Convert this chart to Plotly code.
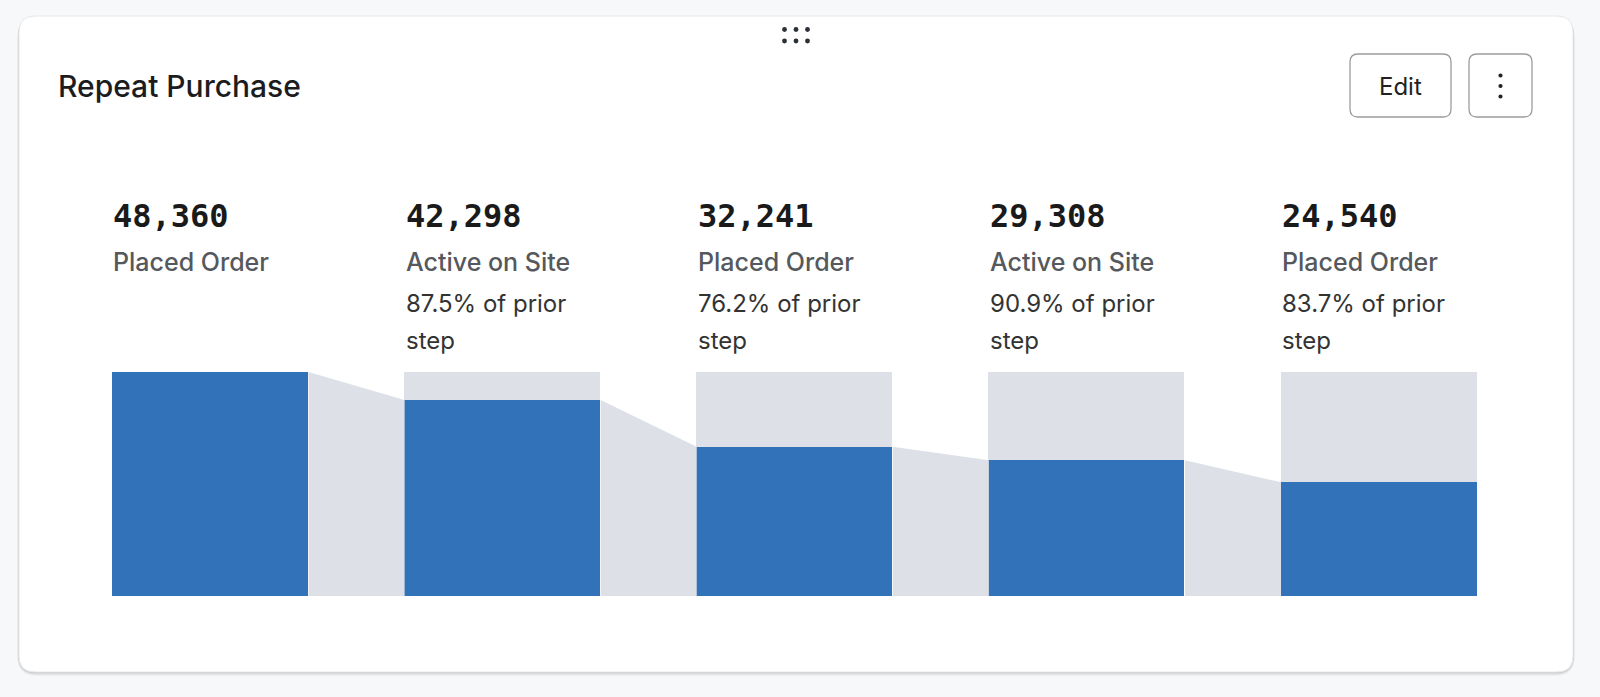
import plotly.graph_objects as go

# ---- data ----
steps = ["Placed Order", "Active on Site", "Placed Order", "Active on Site", "Placed Order"]
counts = [48360, 42298, 32241, 29308, 24540]
title = "Repeat Purchase"

W, H = 1600, 697
BLUE = "#3172b8"
GRAY = "#dde1e7"
BAR_W = 0.671

def px(x):
    return x / W

def py(y):
    return (H - y) / H

fig = go.Figure()

n = len(counts)
xs = list(range(n))
top = counts[0]

# gray background bars (full height) for steps after the first
fig.add_trace(go.Bar(x=xs[1:], y=[top] * (n - 1), width=BAR_W, marker=dict(color=GRAY, line=dict(width=0)),
                     hoverinfo="skip", showlegend=False))
# connectors
for i in range(n - 1):
    x0 = xs[i] + BAR_W / 2
    x1 = xs[i + 1] - BAR_W / 2
    fig.add_trace(go.Scatter(x=[x0, x1, x1, x0, x0], y=[counts[i], counts[i + 1], 0, 0, counts[i]],
                             mode="lines", fill="toself", fillcolor=GRAY, line=dict(width=0, color=GRAY),
                             hoverinfo="skip", showlegend=False))
# blue bars
fig.add_trace(go.Bar(x=xs, y=counts, width=BAR_W, marker=dict(color=BLUE, line=dict(width=0)),
                     hovertemplate="%{y:,}<extra></extra>", showlegend=False))

# ---- text annotations ----
ann = []
ann.append(dict(text=title, x=px(56), y=py(86), xref="paper", yref="paper", xanchor="left", yanchor="middle",
                showarrow=False, font=dict(family="Inter", size=30, color="#1c1c1e", weight=500)))
for i in range(n):
    xl = xs[i] - BAR_W / 2
    ann.append(dict(text=f"{counts[i]:,}", x=xl, y=py(216), xref="x", yref="paper", xanchor="left",
                    yanchor="middle", xshift=-1, showarrow=False,
                    font=dict(family="DejaVu Sans Mono", size=32, color="#1a1a1a", weight="bold")))
    ann.append(dict(text=steps[i], x=xl, y=py(262), xref="x", yref="paper", xanchor="left",
                    yanchor="middle", xshift=-1, showarrow=False,
                    font=dict(family="Inter", size=25, color="#55585d", weight=500)))
    if i > 0:
        pct = counts[i] / counts[i - 1] * 100
        ann.append(dict(text=f"{pct:.1f}% of prior", x=xl, y=py(303), xref="x", yref="paper", xanchor="left",
                        yanchor="middle", xshift=-1, showarrow=False,
                        font=dict(family="Inter", size=24, color="#333333")))
        ann.append(dict(text="step", x=xl, y=py(340.5), xref="x", yref="paper", xanchor="left",
                        yanchor="middle", xshift=-1, showarrow=False,
                        font=dict(family="Inter", size=24, color="#333333")))

# buttons text
ann.append(dict(text="Edit", x=px(1400.5), y=py(86), xref="paper", yref="paper", xanchor="center",
                yanchor="middle", showarrow=False, font=dict(family="Inter", size=24, color="#222222")))


def rrect(x0, y0, x1, y1, r):
    rx, ry = r / W, r / H
    X0, X1 = px(x0), px(x1)
    Y0, Y1 = py(y0), py(y1)  # Y0 top (bigger), Y1 bottom
    return (f"M {X0+rx},{Y0} L {X1-rx},{Y0} Q {X1},{Y0} {X1},{Y0-ry} "
            f"L {X1},{Y1+ry} Q {X1},{Y1} {X1-rx},{Y1} L {X0+rx},{Y1} Q {X0},{Y1} {X0},{Y1+ry} "
            f"L {X0},{Y0-ry} Q {X0},{Y0} {X0+rx},{Y0} Z")

shapes = []
# card shadow
for k, a in [(4, 0.03), (3, 0.04), (2, 0.06), (1, 0.07)]:
    shapes.append(dict(type="path", path=rrect(19 - k * 0.5, 16 + k * 0.5, 1573 + k * 0.5, 672 + k, 16 + k),
                       xref="paper", yref="paper", fillcolor=f"rgba(0,0,0,{a})", line=dict(width=0),
                       layer="below"))
# card
shapes.append(dict(type="path", path=rrect(19, 16, 1573, 672, 16), xref="paper", yref="paper",
                   fillcolor="#ffffff", line=dict(color="#e6e8eb", width=1), layer="below"))
# buttons
shapes.append(dict(type="path", path=rrect(1350, 54, 1451, 117, 8), xref="paper", yref="paper",
                   fillcolor="#ffffff", line=dict(color="#9c9c9c", width=1.3), layer="below"))
shapes.append(dict(type="path", path=rrect(1469, 54, 1532, 117, 8), xref="paper", yref="paper",
                   fillcolor="#ffffff", line=dict(color="#9c9c9c", width=1.3), layer="below"))
# kebab dots
for cy in [75.5, 86, 96.5]:
    r = 2.1
    shapes.append(dict(type="circle", xref="paper", yref="paper", x0=px(1500.5 - r), x1=px(1500.5 + r),
                       y0=py(cy + r), y1=py(cy - r), fillcolor="#222222", line=dict(width=0)))
# drag handle dots
for cx in [784.5, 796, 807.5]:
    for cy in [29.5, 41]:
        r = 2.4
        shapes.append(dict(type="circle", xref="paper", yref="paper", x0=px(cx - r), x1=px(cx + r),
                           y0=py(cy + r), y1=py(cy - r), fillcolor="#2b2f36", line=dict(width=0)))

# axes geometry: bar centers at 210.5 .. 1379 px, pitch 292.2
pitch = (1379 - 210.5) / 4
x_left = 210.5 - pitch / 2
x_right = 1379 + pitch / 2

fig.update_layout(
    width=W, height=H, margin=dict(l=0, r=0, t=0, b=0),
    paper_bgcolor="#f7f8fa", plot_bgcolor="rgba(0,0,0,0)",
    barmode="overlay", bargap=0,
    xaxis=dict(domain=[px(x_left), px(x_right)], range=[-0.5, n - 0.5], visible=False, fixedrange=True),
    yaxis=dict(domain=[py(596), py(372)], range=[0, top], visible=False, fixedrange=True),
    annotations=ann, shapes=shapes, showlegend=False,
)

post = ("document.documentElement.style.margin='0';document.body.style.margin='0';"
        "document.body.style.padding='0';document.body.style.overflow='hidden';"
        "document.body.style.background='#f7f8fa';document.documentElement.style.background='#f7f8fa';")

fig.write_html("out.html", config={"displayModeBar": False}, post_script=post)
